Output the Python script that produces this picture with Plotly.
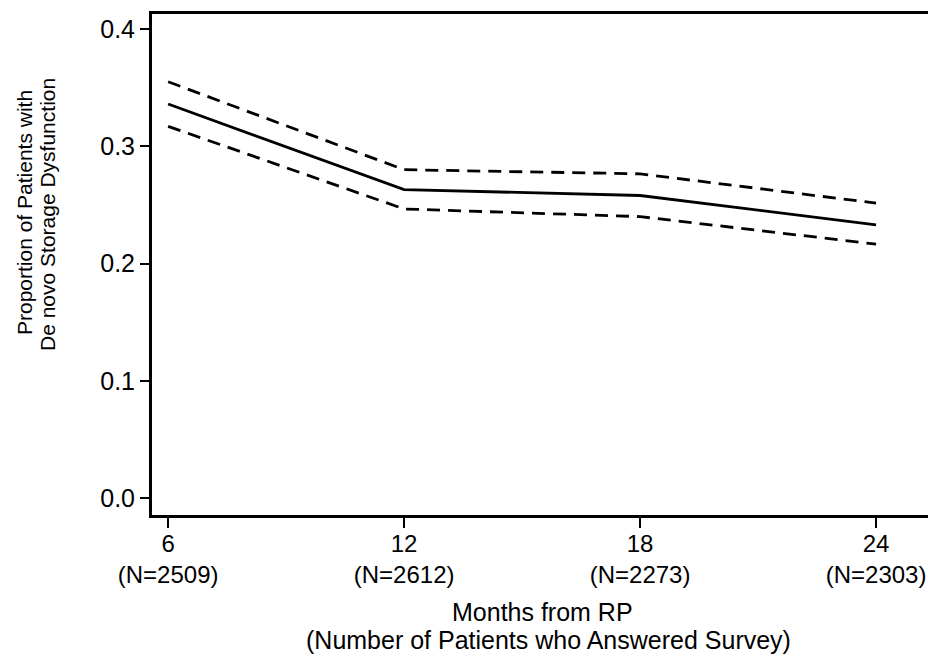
import plotly.graph_objects as go

months = [6, 12, 18, 24]
n_answered = [2509, 2612, 2273, 2303]
proportion = [0.336, 0.263, 0.258, 0.233]
upper_ci = [0.355, 0.280, 0.2765, 0.2515]
lower_ci = [0.317, 0.2465, 0.240, 0.2165]
y_ticks = [0.0, 0.1, 0.2, 0.3, 0.4]

FONT = "Liberation Sans, Arial, Helvetica, sans-serif"

W, H = 928, 659
L, T = 152, 14
PLOT_W = W - L
PLOT_B = 515
PLOT_H = PLOT_B - T

fig = go.Figure()
line_w = 2.8
fig.add_trace(go.Scatter(x=months, y=upper_ci, mode="lines",
                         line=dict(color="black", width=line_w, dash="13px,8px"),
                         showlegend=False, hoverinfo="skip"))
fig.add_trace(go.Scatter(x=months, y=lower_ci, mode="lines",
                         line=dict(color="black", width=line_w, dash="13px,8px"),
                         showlegend=False, hoverinfo="skip"))
fig.add_trace(go.Scatter(x=months, y=proportion, mode="lines",
                         line=dict(color="black", width=line_w),
                         showlegend=False))

tick_text = [f"{m}<br>(N={n})" for m, n in zip(months, n_answered)]

fig.update_layout(
    width=W, height=H,
    margin=dict(l=L, r=0, t=T, b=H - PLOT_B, autoexpand=False),
    paper_bgcolor="white", plot_bgcolor="white",
    font=dict(family=FONT, color="black"),
    xaxis=dict(range=[5.59, 25.32], tickvals=months, ticktext=tick_text,
               showgrid=False, zeroline=False, showline=True, linecolor="black",
               linewidth=3, mirror=True, ticks="outside", ticklen=10, tickwidth=2,
               tickcolor="black", tickfont=dict(size=24, family=FONT),
               ticklabelstandoff=-5, automargin=False),
    yaxis=dict(range=[-0.0145, 0.4128], tickvals=y_ticks,
               ticktext=[f"{v:.1f}" for v in y_ticks],
               showgrid=False, zeroline=False, showline=True, linecolor="black",
               linewidth=3, ticks="outside", ticklen=9, tickwidth=2,
               tickcolor="black", tickfont=dict(size=25, family=FONT),
               automargin=False),
)


def px_to_paper_x(px):
    return (px - L) / PLOT_W


def px_to_paper_y(py):
    return (PLOT_B - py) / PLOT_H


fig.add_annotation(text="Months from RP", xref="paper", yref="paper",
                   x=px_to_paper_x(542), y=px_to_paper_y(612), xanchor="center", yanchor="middle",
                   showarrow=False, font=dict(size=25, family=FONT))
fig.add_annotation(text="(Number of Patients who Answered Survey)", xref="paper", yref="paper",
                   x=px_to_paper_x(548), y=px_to_paper_y(640), xanchor="center", yanchor="middle",
                   showarrow=False, font=dict(size=25, family=FONT))
fig.add_annotation(text="Proportion of Patients with", xref="paper", yref="paper",
                   x=px_to_paper_x(25), y=px_to_paper_y(213), xanchor="center", yanchor="middle",
                   textangle=-90, showarrow=False, font=dict(size=21, family=FONT))
fig.add_annotation(text="De novo Storage Dysfunction", xref="paper", yref="paper",
                   x=px_to_paper_x(47), y=px_to_paper_y(215), xanchor="center", yanchor="middle",
                   textangle=-90, showarrow=False, font=dict(size=21, family=FONT))

fig.write_html(
    "out.html",
    config={"displayModeBar": False},
    post_script="document.body.style.margin='0';document.body.style.overflow='hidden';",
)
